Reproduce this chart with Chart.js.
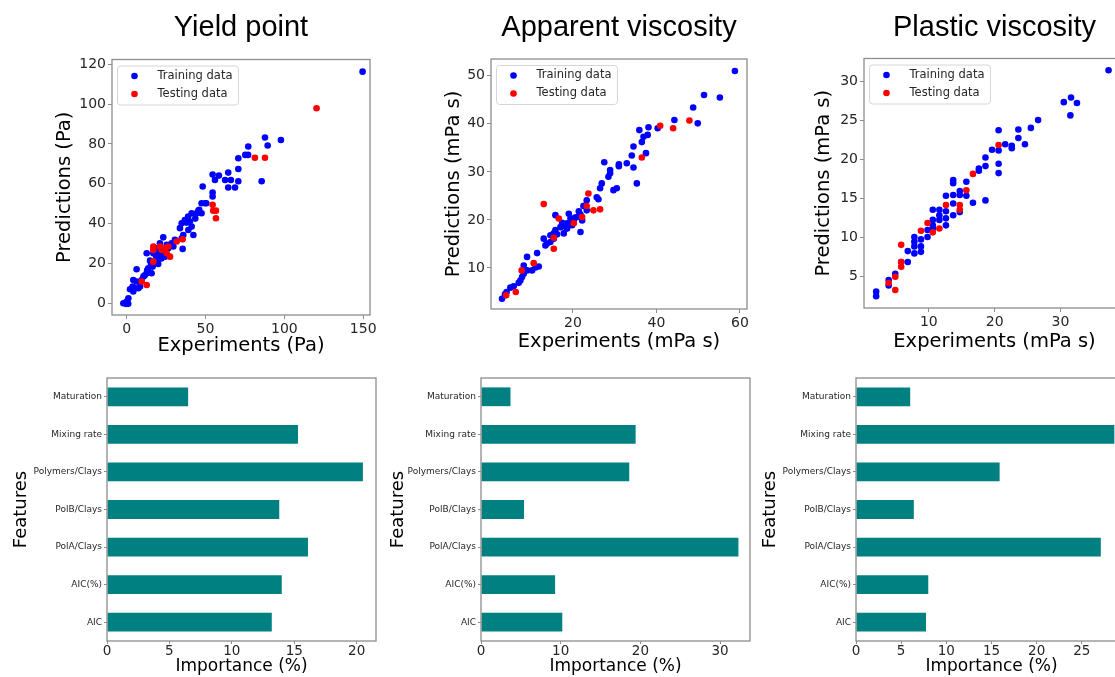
<!DOCTYPE html>
<html>
<head>
<meta charset="utf-8">
<script src="https://cdn.jsdelivr.net/npm/chart.js@4.4.0/dist/chart.umd.min.js"></script>
<style>
  html, body { margin: 0; padding: 0; background: #fff; }
  #page { position: relative; width: 1115px; height: 677px; overflow: hidden; background: #fff; }
  #page canvas { position: absolute; }
</style>
</head>
<body>
<div id="page">
  <canvas id="yieldScatter" width="390" height="370" style="left:0;top:0"></canvas>
  <canvas id="apparentScatter" width="387" height="370" style="left:380px;top:0"></canvas>
  <canvas id="plasticScatter" width="395" height="370" style="left:750px;top:0"></canvas>
  <canvas id="yieldBars" width="396" height="307" style="left:0;top:370px"></canvas>
  <canvas id="apparentBars" width="390" height="307" style="left:380px;top:370px"></canvas>
  <canvas id="plasticBars" width="397" height="307" style="left:750px;top:370px"></canvas>
</div>
<script>
// Yield point (Pa)
const yieldTrainX = [149.6, 97.8, 87.7, 89.4, 77.1, 75.2, 77.0, 70.8, 70.8, 70.8, 68.7, 66.1, 64.4, 62.4, 64.4, 85.6, 58.5, 54.5, 56.0, 54.5, 54.5, 48.2, 47.5, 49.7, 46.0, 47.5, 44.4, 41.2, 39.0, 36.9, 34.9, 40.1, 41.2, 39.1, 35.9, 34.9, 33.8, 42.3, 35.5, 30.6, 28.5, 25.4, 23.2, 21.1, 21.1, 19.0, 19.0, 16.9, 23.2, 24.3, 21.1, 19.0, 17.9, 16.5, 12.7, 14.8, 13.7, 12.7, 10.6, 9.5, 6.3, 6.3, 4.2, 3.8, 2.1, 5.3, 7.4, 8.5, 4.2, 1.1, 0.0, -2.1, -0.4, 1.0, 15.8, 20.0, 29.6, 26.4, 43.5, 45.5, 50.5, 38.0, 18.5, 22.0, 20.5, 15.5, 13.0, 11.5];
const yieldTrainY = [116.3, 82.0, 83.2, 79.2, 78.7, 74.5, 74.5, 72.8, 67.4, 61.3, 58.1, 61.9, 65.6, 61.9, 58.1, 61.3, 64.1, 64.6, 61.9, 55.6, 53.6, 58.6, 50.2, 50.2, 46.9, 45.2, 45.2, 45.2, 43.5, 41.8, 40.2, 41.0, 38.5, 36.8, 34.3, 32.6, 37.7, 34.3, 27.3, 31.8, 30.1, 29.3, 33.1, 30.1, 26.8, 27.6, 25.1, 25.1, 25.1, 23.4, 22.6, 21.8, 20.1, 18.4, 25.1, 21.4, 17.6, 15.1, 13.4, 11.7, 17.1, 10.9, 11.7, 8.4, 7.0, 7.5, 7.5, 8.4, 5.9, 2.5, 0.8, 0.0, -0.3, -0.3, 15.1, 19.7, 28.5, 27.6, 42.5, 46.5, 50.2, 40.5, 24.0, 22.5, 25.5, 19.5, 16.5, 14.0];
const yieldTestX = [120.4, 81.3, 87.7, 54.5, 54.9, 56.6, 56.6, 35.5, 31.7, 26.4, 24.3, 27.5, 16.9, 16.9, 16.9, 9.5, 12.7, 22.2, 25.4, 21.1];
const yieldTestY = [97.9, 73.1, 73.1, 49.4, 46.5, 46.5, 42.7, 32.1, 31.0, 28.5, 27.6, 23.4, 28.5, 26.8, 20.9, 10.9, 9.2, 26.8, 25.1, 28.5];

// Apparent viscosity (mPa s)
const apparentTrainX = [58.8, 51.4, 55.2, 48.8, 49.9, 44.3, 40.3, 38.1, 37.9, 35.9, 36.9, 36.5, 34.5, 34.1, 37.5, 34.5, 32.9, 35.3, 31.0, 31.0, 28.9, 28.5, 28.9, 27.5, 30.5, 29.7, 26.9, 26.5, 25.7, 26.1, 23.3, 22.5, 23.3, 21.8, 22.2, 21.0, 21.8, 20.2, 19.0, 19.4, 18.6, 18.2, 17.4, 17.8, 15.8, 15.8, 15.4, 14.6, 14.6, 13.8, 13.0, 13.4, 11.4, 11.8, 11.0, 10.2, 9.0, 9.0, 8.2, 8.2, 7.8, 7.4, 7.0, 5.8, 5.0, 4.1, 3.7, 3.0, 15.4, 19.8, 18.6, 20.5, 19.6, 21.4, 22.9, 17.0, 16.2];
const apparentTrainY = [51.0, 46.0, 45.5, 43.4, 40.1, 40.8, 39.1, 39.3, 37.7, 38.7, 37.3, 36.2, 35.3, 33.4, 33.9, 30.9, 31.8, 27.6, 31.6, 31.2, 30.4, 29.0, 29.7, 32.0, 26.6, 26.2, 27.6, 26.6, 24.7, 24.3, 24.1, 22.9, 22.0, 21.1, 19.9, 20.6, 17.5, 19.9, 21.3, 20.3, 19.3, 18.6, 19.4, 17.2, 21.0, 17.9, 17.2, 16.8, 15.4, 15.1, 16.1, 14.7, 13.1, 10.3, 10.1, 9.5, 12.3, 9.5, 10.5, 8.8, 8.1, 7.4, 6.9, 6.2, 5.9, 5.0, 4.5, 3.6, 16.1, 18.9, 18.2, 20.5, 19.8, 21.8, 23.0, 18.5, 17.0];
const apparentTestX = [40.9, 44.0, 47.9, 36.5, 23.7, 23.3, 24.9, 26.5, 22.2, 20.2, 13.0, 16.6, 15.4, 15.4, 10.6, 7.7, 6.3, 4.0];
const apparentTestY = [39.6, 39.1, 40.7, 33.0, 25.5, 22.9, 22.0, 22.2, 20.6, 19.3, 23.3, 20.3, 16.3, 14.0, 11.0, 9.5, 5.0, 4.3];

// Plastic viscosity (mPa s)
const plasticTrainX = [37.3, 30.5, 31.6, 32.5, 31.5, 26.6, 25.5, 23.6, 23.6, 24.6, 21.6, 22.6, 22.6, 20.6, 19.6, 20.6, 20.6, 20.6, 18.6, 18.6, 17.6, 17.6, 18.6, 16.7, 15.7, 15.7, 14.7, 14.7, 14.7, 13.7, 13.7, 13.7, 13.7, 13.7, 12.6, 12.6, 12.6, 11.6, 11.6, 11.6, 10.6, 10.6, 10.6, 10.6, 9.8, 9.8, 8.8, 8.8, 7.8, 7.8, 7.8, 7.8, 6.8, 6.8, 5.8, 4.9, 3.9, 3.9, 2.0, 2.0, 12.6, 8.8];
const plasticTrainY = [31.4, 27.3, 27.9, 27.2, 25.6, 25.0, 24.0, 23.8, 22.7, 21.9, 21.9, 21.7, 21.4, 23.7, 21.2, 21.1, 19.4, 18.2, 20.2, 19.1, 18.8, 18.5, 14.7, 14.4, 17.1, 15.3, 15.9, 15.4, 13.2, 17.3, 16.9, 15.4, 14.3, 12.8, 15.3, 12.4, 13.3, 13.5, 12.8, 12.2, 13.5, 12.2, 11.5, 11.1, 10.0, 10.9, 9.7, 8.1, 10.0, 9.4, 8.8, 7.9, 8.2, 6.8, 6.8, 5.3, 4.5, 3.8, 3.0, 2.4, 11.5, 8.8];
const plasticTestX = [20.6, 16.7, 15.7, 14.7, 14.7, 12.6, 11.6, 10.6, 9.8, 8.8, 5.8, 5.8, 5.8, 4.9, 4.9, 3.9];
const plasticTestY = [21.8, 18.1, 16.0, 14.1, 13.5, 14.1, 11.1, 10.6, 11.8, 10.8, 9.0, 6.8, 6.2, 4.9, 3.2, 4.1];

// feature importance (%), listed top to bottom
const featureLabels = ['Maturation', 'Mixing rate', 'Polymers/Clays', 'PolB/Clays', 'PolA/Clays', 'AIC(%)', 'AIC'];
const yieldImportance = [6.5, 15.3, 20.5, 13.8, 16.1, 14.0, 13.2];
const apparentImportance = [3.7, 19.4, 18.6, 5.4, 32.3, 9.3, 10.2];
const plasticImportance = [6.0, 28.6, 15.9, 6.4, 27.1, 8.0, 7.75];

Chart.defaults.font.family = '"DejaVu Sans", sans-serif';
Chart.defaults.color = '#262626';

const toPoints = (xs, ys) => xs.map((x, i) => ({ x, y: ys[i] }));

// box around the plotting area, like matplotlib spines
const framePlugin = {
  id: 'frame',
  afterDatasetsDraw(chart) {
    const { ctx, chartArea: a } = chart;
    ctx.save();
    ctx.strokeStyle = '#8d8d8d';
    ctx.lineWidth = 1.3;
    ctx.strokeRect(a.left, a.top, a.right - a.left, a.bottom - a.top);
    ctx.restore();
  }
};

// legend drawn inside the upper left corner with a rounded border
const boxLegend = {
  id: 'boxLegend',
  afterDraw(chart) {
    const { ctx, chartArea: a } = chart;
    const sets = chart.data.datasets;
    const x = a.left + 5.5, y = a.top + 6.5;
    ctx.save();
    ctx.font = '11.5px "DejaVu Sans"';
    const w = 40 + Math.max(...sets.map(d => ctx.measureText(d.label).width)) + 6;
    const h = 39;
    ctx.beginPath();
    ctx.roundRect(x, y, w, h, 3);
    ctx.fillStyle = 'rgba(255,255,255,0.8)';
    ctx.fill();
    ctx.strokeStyle = '#d6d6d6';
    ctx.lineWidth = 1;
    ctx.stroke();
    sets.forEach((d, i) => {
      const cy = y + 10 + i * 18;
      ctx.beginPath();
      ctx.arc(x + 17, cy, 3.3, 0, Math.PI * 2);
      ctx.fillStyle = d.backgroundColor;
      ctx.fill();
      ctx.fillStyle = '#262626';
      ctx.textBaseline = 'middle';
      ctx.fillText(d.label, x + 40, cy);
    });
    ctx.restore();
  }
};

const tickGrid = { display: true, drawOnChartArea: false, drawTicks: true, tickLength: 4, color: '#8d8d8d' };

function scatterChart(id, o) {
  return new Chart(document.getElementById(id), {
    type: 'scatter',
    data: {
      datasets: [
        { label: 'Training data', data: toPoints(o.trainX, o.trainY), backgroundColor: '#0000ff', order: 1 },
        { label: 'Testing data', data: toPoints(o.testX, o.testY), backgroundColor: '#ff0000', order: 0 }
      ]
    },
    options: {
      responsive: false,
      animation: false,
      layout: { padding: { right: 20 } },
      elements: { point: { radius: 3.3, borderWidth: 0, hoverRadius: 3.3 } },
      plugins: {
        legend: { display: false },
        tooltip: { enabled: false },
        title: {
          display: true,
          text: o.title,
          fullSize: false,
          color: '#000',
          font: { family: '"Liberation Sans", Arial, sans-serif', size: 29, weight: 'normal' },
          padding: { top: 11, bottom: o.top - 11 - 34.8 }
        }
      },
      scales: {
        x: {
          type: 'linear',
          min: o.xMin, max: o.xMax,
          grid: tickGrid,
          border: { display: false },
          ticks: { stepSize: o.xStep, includeBounds: false, padding: 2, font: { size: 14 } },
          title: { display: true, text: o.xTitle, color: '#000', font: { size: 19.5 }, padding: { top: 0, bottom: o.xTitlePad } },
          afterFit: s => { s.height = o.xAxisHeight; }
        },
        y: {
          type: 'linear',
          min: o.yMin, max: o.yMax,
          grid: tickGrid,
          border: { display: false },
          ticks: { stepSize: o.yStep, includeBounds: false, padding: 2, font: { size: 14 } },
          title: { display: true, text: o.yTitle, color: '#000', font: { size: 19.5 }, padding: { top: o.yTitlePad, bottom: 0 } },
          afterFit: s => { s.width = o.yAxisWidth; }
        }
      }
    },
    plugins: [framePlugin, boxLegend]
  });
}

function importanceChart(id, values, o) {
  return new Chart(document.getElementById(id), {
    type: 'bar',
    data: {
      labels: featureLabels,
      datasets: [{ data: values, backgroundColor: '#008080', categoryPercentage: 1, barPercentage: 0.5 }]
    },
    options: {
      indexAxis: 'y',
      responsive: false,
      animation: false,
      layout: { padding: { top: 8, right: 20 } },
      plugins: { legend: { display: false }, tooltip: { enabled: false } },
      scales: {
        x: {
          type: 'linear',
          min: 0, max: o.xMax,
          grid: { ...tickGrid, tickLength: 3 },
          border: { display: false },
          ticks: { stepSize: o.xStep, includeBounds: false, padding: -1, font: { size: 13.5 } },
          title: { display: true, text: 'Importance (%)', color: '#000', font: { size: 17 }, padding: { top: 0, bottom: 0 } },
          afterFit: s => { s.height = 36; }
        },
        y: {
          grid: { ...tickGrid, tickLength: 3, offset: false },
          border: { display: false },
          ticks: { padding: 2, font: { size: 9 } },
          title: { display: true, text: 'Features', color: '#000', font: { size: 18 }, padding: { top: o.yTitlePad, bottom: 0 } },
          afterFit: s => { s.width = o.yAxisWidth; }
        }
      }
    },
    plugins: [framePlugin]
  });
}

scatterChart('yieldScatter', {
  title: 'Yield point', top: 59.5,
  trainX: yieldTrainX, trainY: yieldTrainY, testX: yieldTestX, testY: yieldTestY,
  xMin: -9.3, xMax: 154.3, xStep: 50, yMin: -5.9, yMax: 122.4, yStep: 20,
  xTitle: 'Experiments (Pa)', yTitle: 'Predictions (Pa)',
  xAxisHeight: 55, xTitlePad: 12.5, yAxisWidth: 112, yTitlePad: 53.3
});

scatterChart('apparentScatter', {
  title: 'Apparent viscosity', top: 59,
  trainX: apparentTrainX, trainY: apparentTrainY, testX: apparentTestX, testY: apparentTestY,
  xMin: 0.36, xMax: 61.7, xStep: 20, yMin: 1.46, yMax: 53.5, yStep: 10,
  xTitle: 'Experiments (mPa s)', yTitle: 'Predictions (mPa s)',
  xAxisHeight: 61, xTitlePad: 16.6, yAxisWidth: 111, yTitlePad: 62.3
});

scatterChart('plasticScatter', {
  title: 'Plastic viscosity', top: 58.5,
  trainX: plasticTrainX, trainY: plasticTrainY, testX: plasticTestX, testY: plasticTestY,
  xMin: 0.15, xMax: 39.8, xStep: 10, yMin: 0.9, yMax: 32.9, yStep: 5,
  xTitle: 'Experiments (mPa s)', yTitle: 'Predictions (mPa s)',
  xAxisHeight: 62, xTitlePad: 16.6, yAxisWidth: 114, yTitlePad: 62.3
});

importanceChart('yieldBars', yieldImportance, { xMax: 21.55, xStep: 5, yAxisWidth: 107, yTitlePad: 10.2 });
importanceChart('apparentBars', apparentImportance, { xMax: 33.75, xStep: 10, yAxisWidth: 101, yTitlePad: 7.2 });
importanceChart('plasticBars', plasticImportance, { xMax: 30, xStep: 5, yAxisWidth: 106, yTitlePad: 9.2 });
</script>
</body>
</html>
